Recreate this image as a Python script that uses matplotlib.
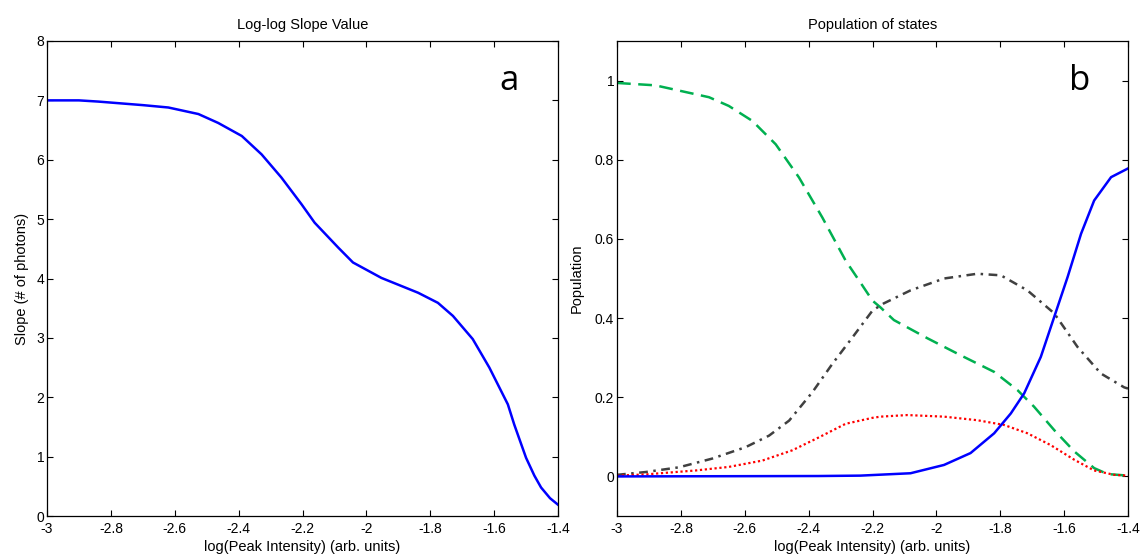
import matplotlib
matplotlib.use("Agg")
import matplotlib.pyplot as plt

plt.rcParams['font.family'] = ['Liberation Sans', 'DejaVu Sans']
plt.rcParams['axes.unicode_minus'] = False

# Panel a: log-log slope
slope_x = [-3.0, -2.9, -2.84, -2.7, -2.62, -2.526, -2.464, -2.39, -2.328, -2.266, -2.203,
           -2.162, -2.088, -2.042, -1.953, -1.838, -1.776, -1.729, -1.667, -1.615, -1.557,
           -1.537, -1.5, -1.474, -1.453, -1.425, -1.4]
slope_y = [7.0, 7.0, 6.98, 6.92, 6.88, 6.77, 6.62, 6.40, 6.09, 5.70, 5.25,
           4.94, 4.52, 4.27, 4.01, 3.76, 3.59, 3.37, 2.98, 2.50, 1.88,
           1.54, 0.98, 0.68, 0.48, 0.30, 0.19]

# Panel b: populations (each curve read at its own x positions)
green_x = [-3.0, -2.88, -2.796, -2.712, -2.65, -2.576, -2.503, -2.43, -2.357, -2.284, -2.238,
           -2.2, -2.175, -2.133, -2.028, -1.924, -1.819, -1.746, -1.694, -1.631, -1.568,
           -1.506, -1.464, -1.4]
green_y = [0.994, 0.988, 0.973, 0.958, 0.936, 0.898, 0.839, 0.755, 0.654, 0.545, 0.49,
           0.444, 0.427, 0.395, 0.349, 0.306, 0.264, 0.218, 0.176, 0.117, 0.063,
           0.021, 0.006, 0.002]

black_x = [-3.0, -2.911, -2.806, -2.702, -2.597, -2.524, -2.461, -2.388, -2.326, -2.263, -2.2,
           -2.165, -2.081, -1.976, -1.872, -1.798, -1.715, -1.631, -1.558, -1.485, -1.412, -1.4]
black_y = [0.004, 0.011, 0.023, 0.045, 0.074, 0.103, 0.141, 0.213, 0.284, 0.351, 0.419,
           0.437, 0.47, 0.50, 0.512, 0.508, 0.47, 0.412, 0.327, 0.26, 0.225, 0.222]

red_x = [-3.0, -2.911, -2.754, -2.65, -2.545, -2.451, -2.367, -2.284, -2.2, -2.175, -2.091,
         -1.976, -1.872, -1.788, -1.715, -1.642, -1.568, -1.506, -1.443, -1.4]
red_y = [0.002, 0.005, 0.015, 0.024, 0.04, 0.066, 0.099, 0.133, 0.148, 0.151, 0.155,
         0.151, 0.142, 0.13, 0.109, 0.079, 0.042, 0.015, 0.004, 0.002]

blue_x = [-3.0, -2.37, -2.238, -2.081, -1.976, -1.893, -1.819, -1.767, -1.725, -1.673, -1.631,
          -1.589, -1.547, -1.506, -1.453, -1.4]
blue_y = [0.0, 0.001, 0.002, 0.008, 0.029, 0.059, 0.109, 0.159, 0.21, 0.302, 0.403,
          0.504, 0.613, 0.697, 0.756, 0.778]

xticks = [-3, -2.8, -2.6, -2.4, -2.2, -2, -1.8, -1.6, -1.4]
xticklabels = ['-3', '-2.8', '-2.6', '-2.4', '-2.2', '-2', '-1.8', '-1.6', '-1.4']

fig = plt.figure(figsize=(11.4, 5.56), dpi=100)
ax1 = fig.add_axes([47/1140, 40/556, 511/1140, 475/556])
ax2 = fig.add_axes([617/1140, 40/556, 511/1140, 475/556])

fs = 10
for ax in (ax1, ax2):
    ax.set_xlim(-3, -1.4)
    ax.set_xticks(xticks)
    ax.set_xticklabels(xticklabels)
    ax.tick_params(direction='in', top=True, right=True, labelsize=fs, length=4, width=0.8, pad=2)
    ax.tick_params(axis='x', pad=4)
    ax.set_xlabel('log(Peak Intensity) (arb. units)', fontsize=fs + 0.5, labelpad=3)
    for s in ax.spines.values():
        s.set_linewidth(0.9)

ax1.plot(slope_x, slope_y, color='#0000ff', lw=1.8)
ax1.set_ylim(0, 8)
ax1.set_yticks(range(0, 9))
ax1.set_ylabel('Slope (# of photons)', fontsize=fs + 0.5, labelpad=5)
ax1.set_title('Log-log Slope Value', fontsize=fs + 0.5, pad=9)
ax1.text(0.905, 0.915, 'a', transform=ax1.transAxes, fontsize=25, family=['Open Sans', 'DejaVu Sans'],
         ha='center', va='center')

ax2.plot(green_x, green_y, color='#00b050', lw=1.8, ls=(0, (5.5, 3)))
ax2.plot(black_x, black_y, color='#404040', lw=1.8, ls=(0, (3.5, 2.2, 1, 2.2)))
ax2.plot(red_x, red_y, color='#ff0000', lw=1.6, ls=(0, (1, 1.2)))
ax2.plot(blue_x, blue_y, color='#0000ff', lw=1.8)
ax2.set_ylim(-0.1, 1.1)
ax2.set_yticks([0, 0.2, 0.4, 0.6, 0.8, 1])
ax2.set_yticklabels(['0', '0.2', '0.4', '0.6', '0.8', '1'])
ax2.set_ylabel('Population', fontsize=fs + 0.5, labelpad=8)
ax2.set_title('Population of states', fontsize=fs + 0.5, pad=9)
ax2.text(0.905, 0.915, 'b', transform=ax2.transAxes, fontsize=25, family=['Open Sans', 'DejaVu Sans'],
         ha='center', va='center')

fig.savefig('out.png', dpi=100)
